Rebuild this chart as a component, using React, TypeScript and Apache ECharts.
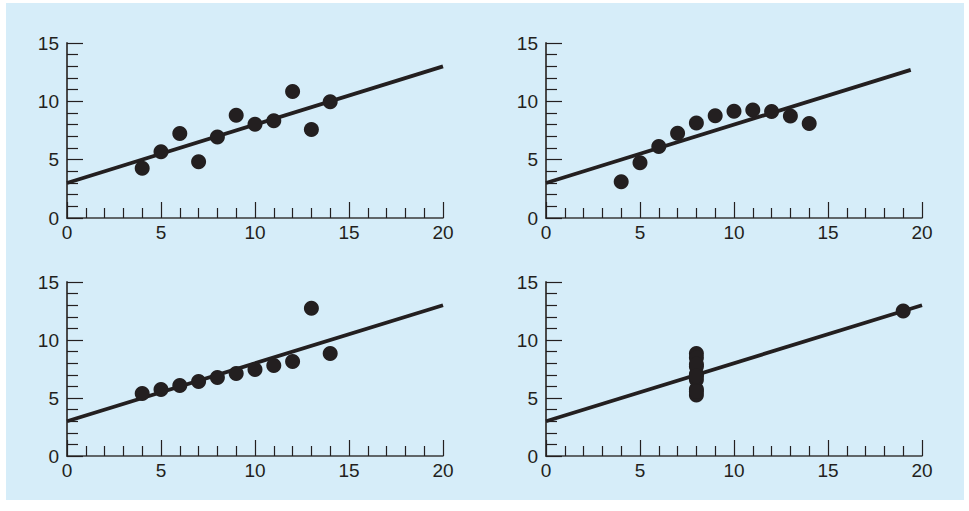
import React, { useEffect, useRef } from "react";
import * as echarts from "echarts";

const xI = [10, 8, 13, 9, 11, 14, 6, 4, 12, 7, 5];
const yI = [8.04, 6.95, 7.58, 8.81, 8.33, 9.96, 7.24, 4.26, 10.84, 4.82, 5.68];
const xII = [10, 8, 13, 9, 11, 14, 6, 4, 12, 7, 5];
const yII = [9.14, 8.14, 8.74, 8.77, 9.26, 8.1, 6.13, 3.1, 9.13, 7.26, 4.74];
const xIII = [10, 8, 13, 9, 11, 14, 6, 4, 12, 7, 5];
const yIII = [7.46, 6.77, 12.74, 7.11, 7.81, 8.84, 6.08, 5.39, 8.15, 6.42, 5.73];
const xIV = [8, 8, 8, 8, 8, 8, 8, 19, 8, 8, 8];
const yIV = [6.58, 5.76, 7.71, 8.84, 8.47, 7.04, 5.25, 12.5, 5.56, 7.91, 6.89];

// fitted line endpoints per panel (y = 3 + 0.5x)
const fitX1 = [0, 20];
const fitY1 = [3, 13];
const fitX2 = [0, 19.4];
const fitY2 = [3, 12.7];
const fitX3 = [0, 20];
const fitY3 = [3, 13];
const fitX4 = [0, 20];
const fitY4 = [3, 13];

const xTicks = [0, 5, 10, 15, 20];
const yTicks = [0, 5, 10, 15];

const panelsX = [xI, xII, xIII, xIV];
const panelsY = [yI, yII, yIII, yIV];
const fitsX = [fitX1, fitX2, fitX3, fitX4];
const fitsY = [fitY1, fitY2, fitY3, fitY4];

const INK = "#231f20";

export default function App() {
  const ref = useRef<HTMLDivElement>(null);
  useEffect(() => {
    document.body.style.margin = "0";
    if (!ref.current) return;
    const chart = echarts.init(ref.current, null, { renderer: "svg" });
    const grids = [
      { left: 67, top: 43, width: 376, height: 175 },
      { left: 546, top: 43, width: 376, height: 175 },
      { left: 67, top: 282, width: 376, height: 174 },
      { left: 546, top: 282, width: 376, height: 174 },
    ];
    const labelStyle = {
      fontFamily: "Liberation Sans, Arial, sans-serif",
      fontSize: 19,
      fontWeight: "normal",
      color: INK,
    };
    const xAxes = grids.map((_, i) => ({
      type: "value",
      gridIndex: i,
      min: xTicks[0],
      max: xTicks[xTicks.length - 1],
      interval: xTicks[1] - xTicks[0],
      axisLine: { show: true, lineStyle: { color: "#3a3a3a", width: 1.5 } },
      axisTick: { show: true, inside: true, length: 16, lineStyle: { color: INK, width: 1.2 } },
      minorTick: { show: true, splitNumber: 5, length: 10, lineStyle: { color: INK, width: 1.2 } },
      splitLine: { show: false },
      axisLabel: { show: true, ...labelStyle, margin: 5 },
    }));
    const yAxes = grids.map((_, i) => ({
      type: "value",
      gridIndex: i,
      min: yTicks[0],
      max: yTicks[yTicks.length - 1],
      interval: yTicks[1] - yTicks[0],
      axisLine: { show: true, lineStyle: { color: "#4a4a4a", width: 2 } },
      axisTick: { show: true, inside: true, length: 16, lineStyle: { color: INK, width: 1.2 } },
      minorTick: { show: true, splitNumber: 5, length: 11, lineStyle: { color: INK, width: 1.2 } },
      splitLine: { show: false },
      axisLabel: { show: true, ...labelStyle, margin: 8 },
    }));
    const series: any[] = [];
    for (let i = 0; i < 4; i++) {
      series.push({
        type: "line",
        xAxisIndex: i,
        yAxisIndex: i,
        data: fitsX[i].map((x, j) => [x, fitsY[i][j]]),
        showSymbol: false,
        symbol: "none",
        lineStyle: { color: INK, width: 3.8 },
        z: 2,
      });
      series.push({
        type: "scatter",
        xAxisIndex: i,
        yAxisIndex: i,
        data: panelsX[i].map((x, j) => [x, panelsY[i][j]]),
        symbolSize: 15,
        itemStyle: { color: INK, opacity: 1 },
        z: 3,
      });
    }
    chart.setOption({
      animation: false,
      backgroundColor: "#ffffff",
      graphic: [
        {
          type: "rect",
          z: -10,
          silent: true,
          shape: { x: 6, y: 3, width: 958, height: 497 },
          style: { fill: "#d6edf9" },
        },
      ],
      grid: grids,
      xAxis: xAxes,
      yAxis: yAxes,
      series,
    });
    return () => chart.dispose();
  }, []);
  return <div ref={ref} style={{ width: 969, height: 511 }} />;
}
